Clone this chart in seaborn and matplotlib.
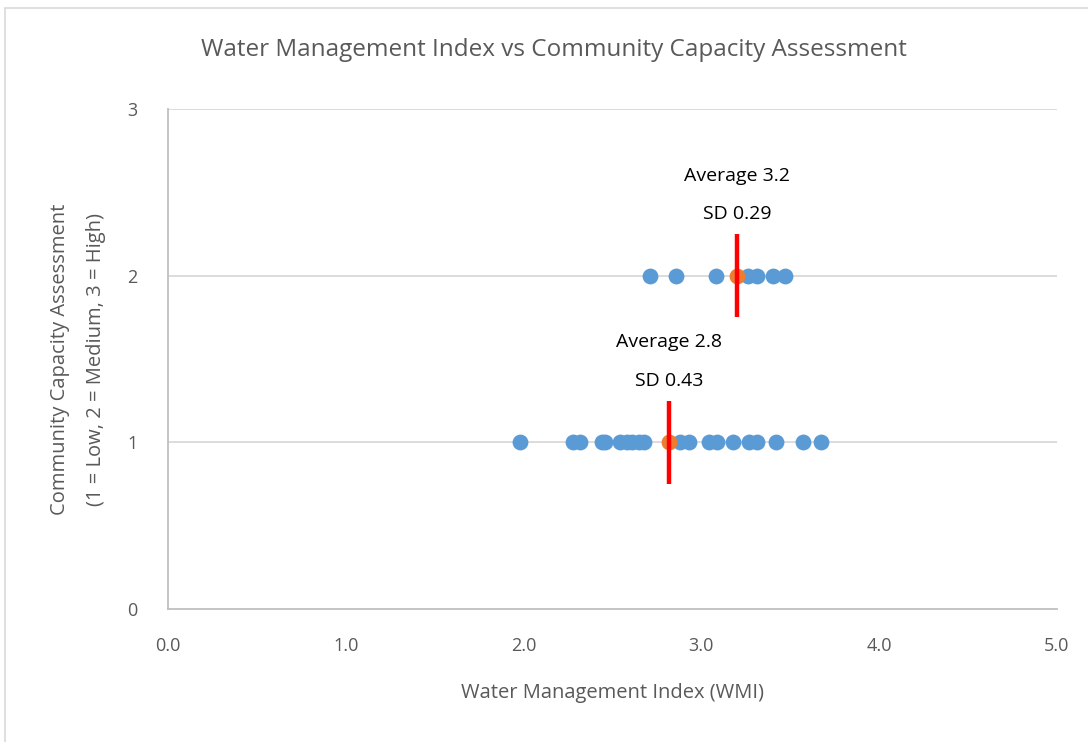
import seaborn as sns
import matplotlib.pyplot as plt
import matplotlib.patches as mpatches
import pandas as pd

# WMI scores, grouped by capacity level
wmi_low = [1.98, 2.28, 2.32, 2.44, 2.46, 2.54, 2.58, 2.61, 2.65, 2.68,
           2.88, 2.93, 3.04, 3.09, 3.18, 3.27, 3.31, 3.42, 3.57, 3.67]
wmi_medium = [2.71, 2.86, 3.08, 3.26, 3.31, 3.40, 3.47]

levels = [1, 2]
means = [2.82, 3.20]
sds = [0.43, 0.29]
avg_labels = ["Average 2.8", "Average 3.2"]
sd_labels = ["SD 0.43", "SD 0.29"]

x_ticks = [0.0, 1.0, 2.0, 3.0, 4.0, 5.0]
y_ticks = [0, 1, 2, 3]

df = pd.DataFrame({
    "wmi": wmi_low + wmi_medium,
    "level": [1] * len(wmi_low) + [2] * len(wmi_medium),
})
mean_df = pd.DataFrame({"wmi": means, "level": levels})

sns.set_theme(style="white")
plt.rcParams["font.family"] = ["Open Sans", "DejaVu Sans"]

grey = "#595959"
fig = plt.figure(figsize=(10.88, 7.42), dpi=100)
ax = fig.add_axes([0.1544, 0.1792, 0.8171, 0.6739])

# outer chart frame
fig.patches.append(mpatches.Rectangle((5 / 1088, -0.01), 1.02, 1 - 8 / 742 + 0.01,
                                      transform=fig.transFigure, fill=False,
                                      edgecolor="#D9D9D9", linewidth=1.2))

for y in y_ticks[1:]:
    ax.axhline(y, color="#D9D9D9", linewidth=1.3, zorder=0)

sns.scatterplot(data=df, x="wmi", y="level", ax=ax, color="#5B9BD5",
                s=130, linewidth=0, zorder=3)
sns.scatterplot(data=mean_df, x="wmi", y="level", ax=ax, color="#ED7D31",
                s=130, linewidth=0, zorder=4)

# red vertical markers at the mean of each group
ax.vlines(means, [l - 0.25 for l in levels], [l + 0.25 for l in levels],
          colors="#FF0000", linewidth=3.2, zorder=5)

for m, l, a, s in zip(means, levels, avg_labels, sd_labels):
    ax.text(m, l + 0.60, a, ha="center", va="center", fontsize=14, color="black")
    ax.text(m, l + 0.37, s, ha="center", va="center", fontsize=14, color="black")

ax.set_xlim(0, 5)
ax.set_ylim(0, 3)
ax.set_xticks(x_ticks)
ax.set_xticklabels([f"{v:.1f}" for v in x_ticks])
ax.set_yticks(y_ticks)
ax.tick_params(axis="both", length=0, labelsize=13, labelcolor=grey)
ax.tick_params(axis="x", pad=20)
ax.tick_params(axis="y", pad=22)

for side in ["top", "right"]:
    ax.spines[side].set_visible(False)
for side in ["left", "bottom"]:
    ax.spines[side].set_color("#BFBFBF")
    ax.spines[side].set_linewidth(1.3)

ax.set_xlabel("Water Management Index (WMI)", fontsize=14.5, color=grey, labelpad=20)
ax.set_ylabel("Community Capacity Assessment\n(1 = Low, 2 = Medium, 3 = High)",
              fontsize=14.5, color=grey, labelpad=15, linespacing=2.1)

fig.text(554 / 1088, 1 - 50 / 742, "Water Management Index vs Community Capacity Assessment",
         ha="center", va="center", fontsize=17.5, color=grey)

plt.savefig("out.png", dpi=100)
plt.close()
